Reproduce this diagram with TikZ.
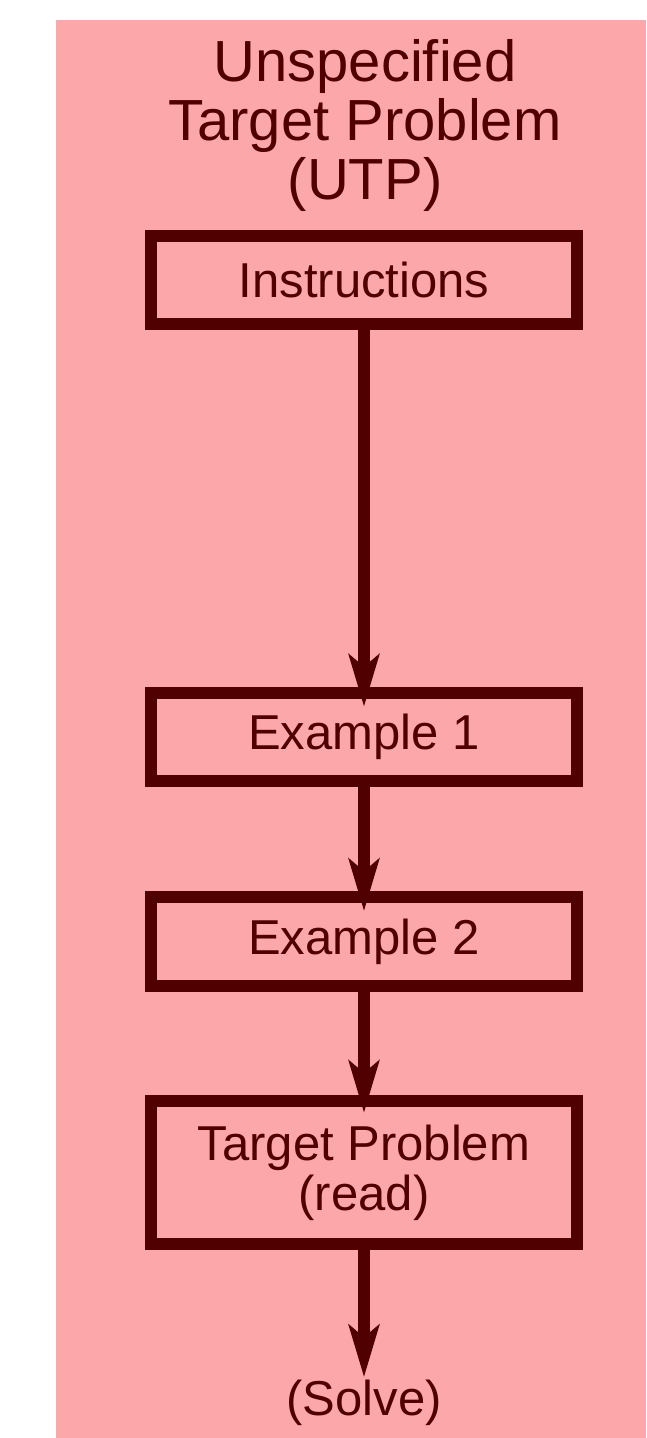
\documentclass[tikz,border=0pt]{standalone}
\usepackage{fontspec}
\setmainfont{Liberation Sans}
\usetikzlibrary{arrows.meta}
\definecolor{bgpink}{RGB}{252,168,170}
\definecolor{maroon}{RGB}{80,0,0}
\begin{document}
\begin{tikzpicture}[x=1pt,y=-1pt,
  flowbox/.style={draw=maroon, line width=12pt, inner sep=0pt, minimum width=426.6pt,
     text=maroon, align=center, font=\fontsize{49}{50}\selectfont},
  flowarrow/.style={draw=maroon, line width=12pt, -{Stealth[length=52pt,width=30pt,inset=12pt]}},
  plaintext/.style={text=maroon, align=center, inner sep=0pt}]
\useasboundingbox (0,0) rectangle (646,1438);
\fill[bgpink] (56,20) rectangle (646,1438);
\node[plaintext, font=\fontsize{58}{59}\selectfont] (title) at (365,125.5)
  {Unspecified\\Target Problem\\(UTP)};
\node[flowbox, minimum height=88.5pt] (ins) at (364,280) {Instructions};
\node[flowbox, minimum height=88.3pt] (ex1) at (364,737) {Example 1};
\node[flowbox, minimum height=88.5pt] (ex2) at (364,941.5) {Example 2};
\node[flowbox, minimum height=143pt] (tp) at (364,1172.5) {Target Problem\\(read)};
\node[plaintext, font=\fontsize{49}{50}\selectfont, anchor=base] (solve) at (364,1415) {(Solve)};
\draw[flowarrow] (ins.south) -- ([yshift=-20pt]ex1.north);
\draw[flowarrow] (ex1.south) -- ([yshift=-20pt]ex2.north);
\draw[flowarrow] (ex2.south) -- ([yshift=-18pt]tp.north);
\draw[flowarrow] (tp.south) -- ([yshift=2pt]solve.north);
\end{tikzpicture}
\end{document}
